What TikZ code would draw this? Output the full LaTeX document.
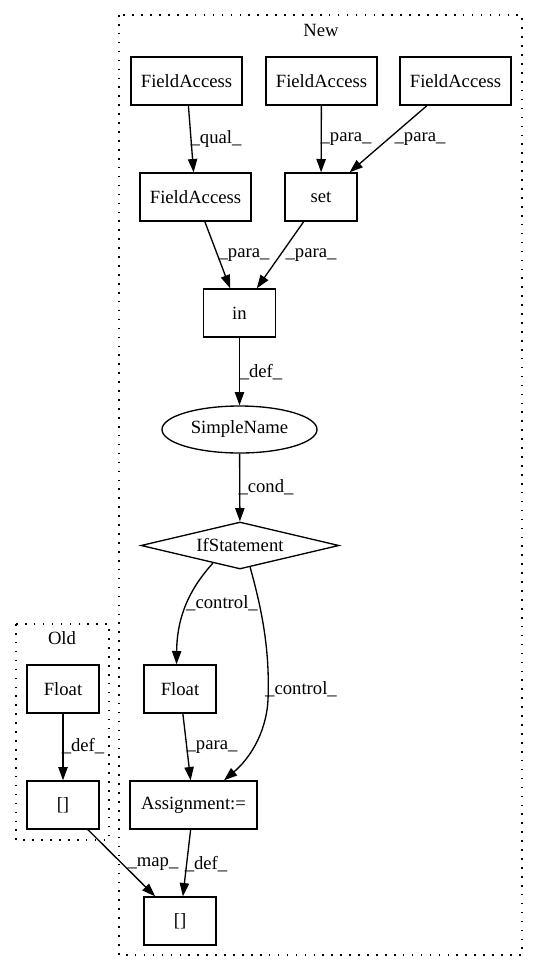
\documentclass[tikz,border=0pt]{standalone}
\usepackage{fontspec}
\setmainfont{Liberation Serif}
\usetikzlibrary{arrows.meta,shapes.geometric}
\begin{document}
\begin{tikzpicture}[x=0.75pt,y=-0.75pt,
  font=\fontsize{14}{16}\selectfont,
  box/.style={draw, rectangle, line width=1pt, inner sep=0pt, minimum height=36pt},
  wide/.style={box, minimum width=83.25pt},
  small/.style={box, minimum width=54pt},
  asg/.style={box, minimum width=95.25pt},
  oval/.style={draw, ellipse, line width=1pt, inner sep=0pt, minimum width=116.25pt, minimum height=35.25pt},
  dia/.style={draw, diamond, aspect=4.2, line width=1pt, inner sep=0pt, minimum width=148.5pt, minimum height=35.25pt},
  edge/.style={line width=1pt, -{Triangle[length=10pt,width=7pt]}},
  lbl/.style={inner sep=0pt},
  cluster/.style={line width=1pt, dash pattern=on 1.2pt off 5.5pt}]
\useasboundingbox (0,0) rectangle (539,972);
% clusters
\draw[cluster] (119,15) rectangle (522,955);
\node[lbl] (newlbl) at (321,30) {New};
\draw[cluster] (16,624) rectangle (109,840);
\node[lbl] (oldlbl) at (62,638) {Old};
% nodes
\node[wide] (fa1) at (186.5,81) {FieldAccess};
\node[wide] (fa2) at (321.5,81) {FieldAccess};
\node[wide] (fa3) at (455.5,81) {FieldAccess};
\node[wide] (fa4) at (195.5,197) {FieldAccess};
\node[small] (set) at (321,197) {set};
\node[small] (in) at (239.5,313) {in};
\node[oval] (sn) at (239.5,429.5) {SimpleName};
\node[dia] (if) at (240,545.5) {IfStatement};
\node[small] (fl2) at (180,689) {Float};
\node[asg] (asg) at (193.5,805) {Assignment:=};
\node[small] (br2) at (180,921) {[]};
\node[small] (fl1) at (63,689) {Float};
\node[small] (br1) at (63,805) {[]};
% edges
\draw[edge] (fa1) -- (fa4);
\draw[edge] (fa2) -- (set);
\draw[edge] (fa3) -- (set);
\draw[edge] (fa4) -- (in);
\draw[edge] (set) -- (in);
\draw[edge] (in) -- (sn);
\draw[edge] (sn) -- (if);
\draw[edge] (if.-147) .. controls (195,583) and (177,610) .. (fl2.98);
\draw[edge] (if.-65) .. controls (262,610) and (270,650) .. (268,700)
  .. controls (266,735) and (248,760) .. (asg.39);
\draw[edge] (fl2) -- (asg);
\draw[edge] (asg) -- (br2);
\draw[edge] (fl1) -- (br1);
\draw[edge] (br1) -- (br2);
% edge labels
\node[lbl] (e1) at (216,139) {\_qual\_};
\node[lbl] (e2) at (346,139) {\_para\_};
\node[lbl] (e3) at (420,139) {\_para\_};
\node[lbl] (e4) at (244,255) {\_para\_};
\node[lbl] (e5) at (311,255) {\_para\_};
\node[lbl] (e6) at (261,372) {\_def\_};
\node[lbl] (e7) at (266,487) {\_cond\_};
\node[lbl] (e8) at (222,603) {\_control\_};
\node[lbl] (e9) at (301,689) {\_control\_};
\node[lbl] (e10) at (212,747) {\_para\_};
\node[lbl] (e11) at (83,746) {\_def\_};
\node[lbl] (e12) at (153,864) {\_map\_};
\node[lbl] (e13) at (206,864) {\_def\_};
\end{tikzpicture}
\end{document}
